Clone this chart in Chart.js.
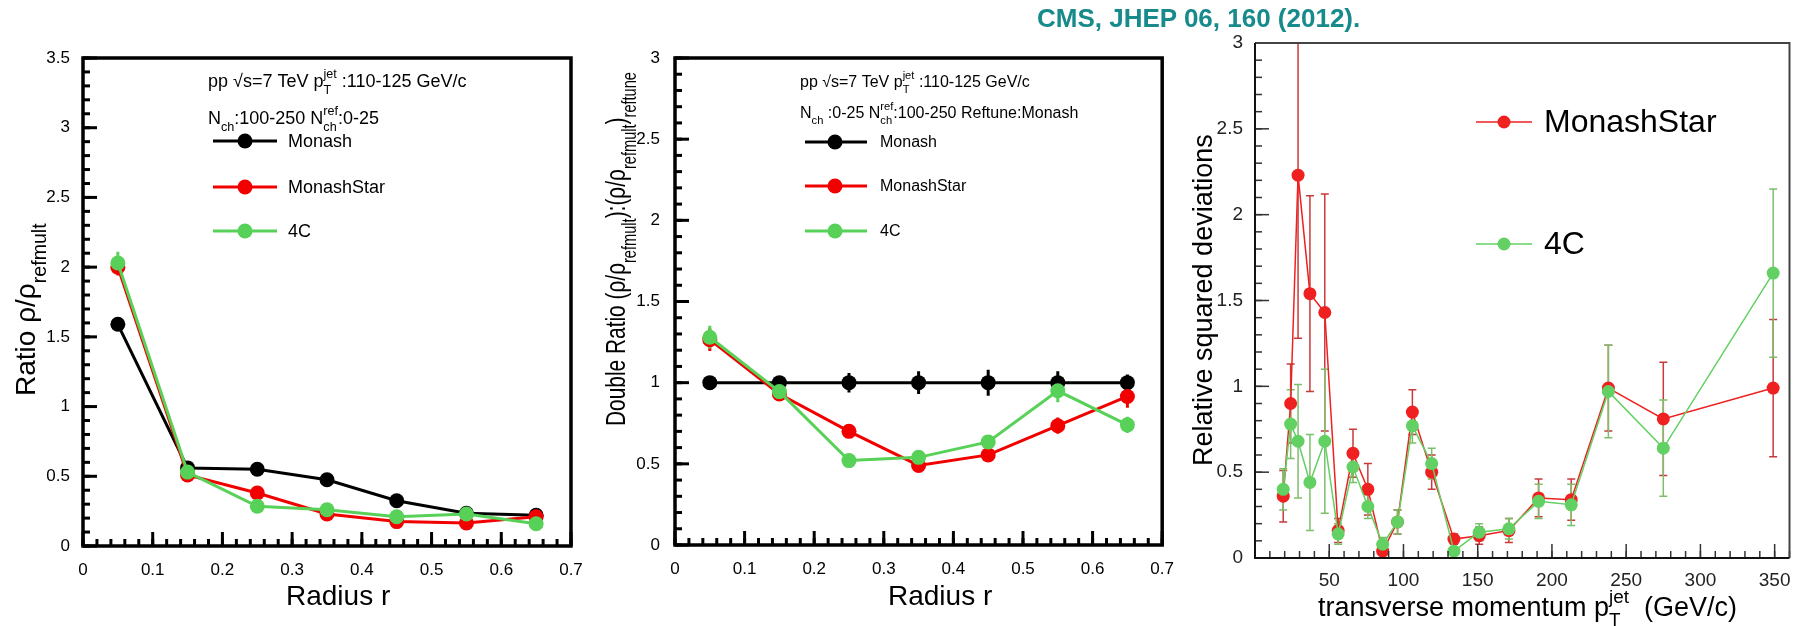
<!DOCTYPE html>
<html>
<head>
<meta charset="utf-8">
<script src="https://cdn.jsdelivr.net/npm/chart.js@4.4.0/dist/chart.umd.min.js"></script>
<style>
  html, body { margin: 0; padding: 0; background: #fff; }
  #wrap { position: relative; width: 1796px; height: 626px; overflow: hidden; }
  canvas { position: absolute; top: 0; }
  #cite { position: absolute; left: 1037px; top: 3px; font: bold 26px "Liberation Sans", Arial, sans-serif; color: #178a8c; white-space: nowrap; }
</style>
</head>
<body>
<div id="wrap">
  <canvas id="c1" width="600" height="626" style="left:0px"></canvas>
  <canvas id="c2" width="580" height="626" style="left:600px"></canvas>
  <canvas id="c3" width="616" height="626" style="left:1180px"></canvas>
  <div id="cite">CMS, JHEP 06, 160 (2012).</div>
</div>
<script>
// ---- data ----
const radius = [0.05, 0.15, 0.25, 0.35, 0.45, 0.55, 0.65];

const ratioMonash = [1.59, 0.56, 0.55, 0.475, 0.325, 0.235, 0.22];
const ratioStar   = [2.00, 0.51, 0.38, 0.23, 0.175, 0.165, 0.21];
const ratio4C     = [2.03, 0.53, 0.285, 0.26, 0.21, 0.23, 0.16];
const ratioMonashErr = [0.02, 0.01, 0.01, 0.01, 0.01, 0.01, 0.01];
const ratioStarErr   = [0.06, 0.02, 0.01, 0.01, 0.01, 0.01, 0.01];
const ratio4CErr     = [0.08, 0.02, 0.01, 0.01, 0.01, 0.01, 0.01];

const dblMonash = [1, 1, 1, 1, 1, 1, 1];
const dblStar   = [1.265, 0.93, 0.70, 0.49, 0.555, 0.735, 0.915];
const dbl4C     = [1.28, 0.945, 0.52, 0.54, 0.635, 0.95, 0.74];
const dblMonashErr = [0.01, 0.04, 0.06, 0.07, 0.08, 0.07, 0.05];
const dblStarErr   = [0.07, 0.03, 0.02, 0.02, 0.02, 0.05, 0.07];
const dbl4CErr     = [0.07, 0.03, 0.02, 0.02, 0.02, 0.07, 0.05];

const ptJet   = [19, 24, 29, 37, 47, 56, 66, 76, 86, 96, 106, 119, 134, 151, 171, 191, 213, 238, 275, 349];
const rsdStar = [0.36, 0.90, 2.23, 1.54, 1.43, 0.16, 0.61, 0.40, 0.04, 0.21, 0.85, 0.50, 0.11, 0.13, 0.16, 0.35, 0.34, 0.99, 0.81, 0.99];
const rsd4C   = [0.40, 0.78, 0.68, 0.44, 0.68, 0.14, 0.53, 0.30, 0.08, 0.21, 0.77, 0.55, 0.04, 0.15, 0.17, 0.33, 0.31, 0.97, 0.64, 1.66];
const rsdStarErr = [0.15, 0.23, 0.95, 0.57, 0.69, 0.07, 0.14, 0.15, 0.05, 0.07, 0.13, 0.10, 0.03, 0.05, 0.07, 0.11, 0.12, 0.25, 0.33, 0.40];
const rsd4CErr   = [0.12, 0.20, 0.33, 0.28, 0.42, 0.06, 0.09, 0.07, 0.04, 0.07, 0.10, 0.09, 0.02, 0.05, 0.06, 0.10, 0.12, 0.27, 0.28, 0.49];

// tick labels
const radiusTicks = [0, 0.1, 0.2, 0.3, 0.4, 0.5, 0.6, 0.7];
const ratioTicks  = [0, 0.5, 1, 1.5, 2, 2.5, 3, 3.5];
const dblTicks    = [0, 0.5, 1, 1.5, 2, 2.5, 3];
const ptTicks     = [50, 100, 150, 200, 250, 300, 350];
const rsdTicks    = [0, 0.5, 1, 1.5, 2, 2.5, 3];

const FONT = '"Liberation Sans", Arial, Helvetica, sans-serif';

// text with sub/superscripts; parts are strings or {t, sub, sup, keep}
function asPart(p) { return typeof p === 'string' ? { t: p } : p; }
function partWidth(ctx, p, size) {
  ctx.font = (p.sub || p.sup ? size * 0.7 : size) + 'px ' + FONT;
  return ctx.measureText(p.t).width;
}
function richWidth(ctx, parts, size) {
  let w = 0, held = 0;
  parts.map(asPart).forEach(p => {
    const pw = partWidth(ctx, p, size);
    if (p.keep) { held = pw; return; }
    w += Math.max(pw, held); held = 0;
  });
  return w;
}
function drawRich(ctx, parts, x, y, size) {
  let cx = x, held = 0;
  ctx.textAlign = 'left';
  ctx.textBaseline = 'alphabetic';
  parts.map(asPart).forEach(p => {
    const pw = partWidth(ctx, p, size);
    let dy = 0;
    if (p.sub) dy = size * 0.38;
    if (p.sup) dy = -size * 0.5;
    ctx.fillText(p.t, cx, y + dy);
    if (p.keep) { held = pw; return; }
    cx += Math.max(pw, held); held = 0;
  });
}

function minorValues(min, max, step) {
  const out = [];
  const n = Math.round((max - min) / step);
  for (let i = 0; i <= n; i++) out.push(min + i * step);
  return out;
}

// plot box in pixels, taken from the scales
function plotBox(chart, o) {
  const xs = chart.scales.x, ys = chart.scales.y;
  return {
    l: xs.getPixelForValue(o.xMin), r: xs.getPixelForValue(o.xMax),
    t: ys.getPixelForValue(o.yMax), b: ys.getPixelForValue(o.yMin)
  };
}

// ROOT-like frame, inward ticks, error bars, titles and legend
function rootPlot(o) {
  return {
    id: 'rootPlot',
    beforeDatasetsDraw(chart) {
      const ctx = chart.ctx, ys = chart.scales.y, B = plotBox(chart, o);
      ctx.save();
      ctx.beginPath();
      ctx.rect(B.l, B.t, B.r - B.l, B.b - B.t);
      ctx.clip();
      chart.data.datasets.forEach((ds, i) => {
        const meta = chart.getDatasetMeta(i);
        ctx.strokeStyle = ds.errColor;
        ctx.lineWidth = o.errWidth;
        meta.data.forEach((pt, j) => {
          const v = ds.data[j].y, e = ds.errors[j];
          const y0 = ys.getPixelForValue(v - e), y1 = ys.getPixelForValue(v + e);
          ctx.beginPath();
          ctx.moveTo(pt.x, y0); ctx.lineTo(pt.x, y1);
          if (o.cap) {
            ctx.moveTo(pt.x - o.cap, y0); ctx.lineTo(pt.x + o.cap, y0);
            ctx.moveTo(pt.x - o.cap, y1); ctx.lineTo(pt.x + o.cap, y1);
          }
          ctx.stroke();
        });
      });
      ctx.restore();
    },
    afterDraw(chart) {
      const ctx = chart.ctx, xs = chart.scales.x, ys = chart.scales.y;
      const B = plotBox(chart, o);
      ctx.save();
      ctx.strokeStyle = o.tickColor;
      ctx.lineWidth = o.tickWidth;
      minorValues(o.xMin, o.xMax, o.xMinor).forEach(v => {
        const px = xs.getPixelForValue(v);
        ctx.beginPath(); ctx.moveTo(px, B.b); ctx.lineTo(px, B.b - o.minorLen); ctx.stroke();
      });
      o.xMajor.forEach(v => {
        const px = xs.getPixelForValue(v);
        ctx.beginPath(); ctx.moveTo(px, B.b); ctx.lineTo(px, B.b - o.majorLen); ctx.stroke();
      });
      minorValues(o.yMin, o.yMax, o.yMinor).forEach(v => {
        const py = ys.getPixelForValue(v);
        ctx.beginPath(); ctx.moveTo(B.l, py); ctx.lineTo(B.l + o.minorLen, py); ctx.stroke();
      });
      o.yMajor.forEach(v => {
        const py = ys.getPixelForValue(v);
        ctx.beginPath(); ctx.moveTo(B.l, py); ctx.lineTo(B.l + o.majorLen, py); ctx.stroke();
      });
      if (o.thickFrame) {
        ctx.strokeStyle = '#000';
        ctx.lineWidth = o.frameWidth;
        ctx.beginPath();
        ctx.rect(B.l, B.t, B.r - B.l, B.b - B.t);
        ctx.stroke();
      } else {
        ctx.strokeStyle = '#444';
        ctx.lineWidth = 2;
        ctx.beginPath();
        ctx.moveTo(B.l, B.t); ctx.lineTo(B.r, B.t); ctx.lineTo(B.r, B.b);
        ctx.stroke();
        ctx.strokeStyle = '#111';
        ctx.lineWidth = 2;
        ctx.beginPath();
        ctx.moveTo(B.l, B.t); ctx.lineTo(B.l, B.b); ctx.lineTo(B.r, B.b);
        ctx.stroke();
      }
      ctx.restore();

      ctx.save();
      ctx.fillStyle = '#000';
      o.titles.forEach(t => {
        ctx.save();
        ctx.translate(t.x, t.y);
        if (t.rot) ctx.rotate(-Math.PI / 2);
        if (t.length) ctx.scale(t.length / richWidth(ctx, t.parts, t.size), 1);
        drawRich(ctx, t.parts, 0, 0, t.size);
        ctx.restore();
      });
      o.notes.forEach(n => drawRich(ctx, n.parts, n.x, n.y, o.noteSize));
      const L = o.legend;
      chart.data.datasets.forEach((ds, i) => {
        const y = L.ys[i];
        ctx.strokeStyle = ds.borderColor;
        ctx.lineWidth = L.lineWidth;
        ctx.beginPath(); ctx.moveTo(L.x0, y); ctx.lineTo(L.x1, y); ctx.stroke();
        ctx.fillStyle = ds.borderColor;
        ctx.beginPath(); ctx.arc(L.mx, y, L.r, 0, Math.PI * 2); ctx.fill();
        ctx.fillStyle = '#000';
        ctx.font = L.size + 'px ' + FONT;
        ctx.textAlign = 'left';
        ctx.textBaseline = 'middle';
        ctx.fillText(ds.label, L.tx, y + 1);
      });
      ctx.restore();
    }
  };
}

function makePanel(id, p) {
  const datasets = p.series.map(s => ({
    label: s.label,
    data: p.x.map((x, i) => ({ x: x, y: s.y[i] })),
    errors: s.err,
    errColor: s.errColor || s.color,
    borderColor: s.color,
    backgroundColor: s.color,
    pointBackgroundColor: s.color,
    pointBorderWidth: 0,
    pointRadius: p.pointRadius,
    borderWidth: p.lineWidth,
    order: s.order,
    tension: 0
  }));
  const tickFont = { family: FONT, size: p.tickSize };
  const fmt = v => String(v);
  Object.assign(p.root, { xMin: p.xMin, xMax: p.xMax, yMin: p.yMin, yMax: p.yMax });
  return new Chart(document.getElementById(id), {
    type: 'line',
    data: { datasets: datasets },
    options: {
      responsive: false,
      animation: false,
      events: [],
      layout: { padding: { top: p.area.top, right: p.area.right, left: 0, bottom: 0 } },
      scales: {
        x: {
          type: 'linear', min: p.xMin, max: p.xMax,
          afterBuildTicks: sc => { sc.ticks = p.xTicks.map(v => ({ value: v })); },
          afterFit: sc => { sc.height = p.area.bottom; },
          grid: { display: false }, border: { display: false },
          ticks: { font: tickFont, color: p.tickColor, padding: p.xPad, maxRotation: 0, autoSkip: false, callback: fmt }
        },
        y: {
          type: 'linear', min: p.yMin, max: p.yMax,
          afterBuildTicks: sc => { sc.ticks = p.yTicks.map(v => ({ value: v })); },
          afterFit: sc => { sc.width = p.area.left; },
          grid: { display: false }, border: { display: false },
          ticks: { font: tickFont, color: p.tickColor, padding: p.yPad, autoSkip: false, callback: fmt }
        }
      },
      plugins: {
        legend: { display: false },
        tooltip: { enabled: false }
      }
    },
    plugins: [rootPlot(p.root)]
  });
}

const BLACK = '#000000', RED = '#f20000', GREEN = '#57d157';

// left panel: ratio
makePanel('c1', {
  x: radius, xMin: 0, xMax: 0.7, xTicks: radiusTicks,
  yMin: 0, yMax: 3.5, yTicks: ratioTicks,
  area: { left: 83, top: 58, right: 29, bottom: 80 },
  tickSize: 17, tickColor: '#000', xPad: 6, yPad: 5,
  pointRadius: 7.5, lineWidth: 3,
  series: [
    { label: 'Monash', y: ratioMonash, err: ratioMonashErr, color: BLACK, order: 3 },
    { label: 'MonashStar', y: ratioStar, err: ratioStarErr, color: RED, order: 2 },
    { label: '4C', y: ratio4C, err: ratio4CErr, color: GREEN, order: 1 }
  ],
  root: {
    errWidth: 3, cap: 0, tickColor: '#000', tickWidth: 3, majorLen: 14, minorLen: 7,
    xMajor: radiusTicks, yMajor: ratioTicks, xMinor: 0.02, yMinor: 0.1,
    thickFrame: true, frameWidth: 3.5,
    titles: [
      { parts: ['Ratio ρ/ρ', { t: 'refmult', sub: true }], size: 28, rot: true, x: 35, y: 396 },
      { parts: ['Radius r'], size: 28, x: 286, y: 605 }
    ],
    noteSize: 18,
    notes: [
      { parts: ['pp √s=7 TeV p', { t: 'T', sub: true, keep: true }, { t: 'jet', sup: true }, ' :110-125 GeV/c'], x: 208, y: 87 },
      { parts: ['N', { t: 'ch', sub: true }, ':100-250 N', { t: 'ch', sub: true, keep: true }, { t: 'ref', sup: true }, ':0-25'], x: 208, y: 124 }
    ],
    legend: { x0: 213, x1: 277, mx: 245, tx: 288, ys: [141, 187, 231], r: 7.5, lineWidth: 3, size: 18 }
  }
});

// middle panel: double ratio
makePanel('c2', {
  x: radius, xMin: 0, xMax: 0.7, xTicks: radiusTicks,
  yMin: 0, yMax: 3, yTicks: dblTicks,
  area: { left: 75, top: 58, right: 17, bottom: 81 },
  tickSize: 17, tickColor: '#000', xPad: 6, yPad: 7,
  pointRadius: 7.5, lineWidth: 3,
  series: [
    { label: 'Monash', y: dblMonash, err: dblMonashErr, color: BLACK, order: 3 },
    { label: 'MonashStar', y: dblStar, err: dblStarErr, color: RED, order: 2 },
    { label: '4C', y: dbl4C, err: dbl4CErr, color: GREEN, order: 1 }
  ],
  root: {
    errWidth: 3, cap: 0, tickColor: '#000', tickWidth: 3, majorLen: 14, minorLen: 7,
    xMajor: radiusTicks, yMajor: dblTicks, xMinor: 0.02, yMinor: 0.1,
    thickFrame: true, frameWidth: 3.5,
    titles: [
      { parts: ['Double Ratio (ρ/ρ', { t: 'refmult', sub: true }, '):(ρ/ρ', { t: 'refmult', sub: true }, ')', { t: 'reftune', sub: true }],
        size: 28, rot: true, x: 25, y: 426, length: 354 },
      { parts: ['Radius r'], size: 28, x: 288, y: 605 }
    ],
    noteSize: 16,
    notes: [
      { parts: ['pp √s=7 TeV p', { t: 'T', sub: true, keep: true }, { t: 'jet', sup: true }, ' :110-125 GeV/c'], x: 200, y: 87 },
      { parts: ['N', { t: 'ch', sub: true }, ' :0-25 N', { t: 'ch', sub: true, keep: true }, { t: 'ref', sup: true }, ':100-250 Reftune:Monash'], x: 200, y: 118 }
    ],
    legend: { x0: 205, x1: 267, mx: 235, tx: 280, ys: [142, 186, 231], r: 7.5, lineWidth: 3, size: 16 }
  }
});

// right panel: relative squared deviations vs jet pT
makePanel('c3', {
  x: ptJet, xMin: 0, xMax: 360, xTicks: ptTicks,
  yMin: 0, yMax: 3, yTicks: rsdTicks,
  area: { left: 75, top: 43, right: 6, bottom: 68 },
  tickSize: 19, tickColor: '#222', xPad: 3, yPad: 4,
  pointRadius: 6.5, lineWidth: 1.5,
  series: [
    { label: 'MonashStar', y: rsdStar, err: rsdStarErr, color: '#ee2020', errColor: '#c83a3a', order: 2 },
    { label: '4C', y: rsd4C, err: rsd4CErr, color: '#62d062', errColor: '#7cbf6a', order: 1 }
  ],
  root: {
    errWidth: 1.5, cap: 4, tickColor: '#333', tickWidth: 1.5, majorLen: 14, minorLen: 7,
    xMajor: ptTicks, yMajor: rsdTicks, xMinor: 10, yMinor: 0.1,
    thickFrame: false,
    titles: [
      { parts: ['Relative squared deviations'], size: 27, rot: true, x: 32, y: 466 },
      { parts: ['transverse momentum p', { t: 'T', sub: true, keep: true }, { t: 'jet', sup: true }, '  (GeV/c)'], size: 27, x: 138, y: 616 }
    ],
    noteSize: 16,
    notes: [],
    legend: { x0: 296, x1: 352, mx: 324, tx: 364, ys: [122, 244], r: 6.5, lineWidth: 1.5, size: 32 }
  }
});
</script>
</body>
</html>
